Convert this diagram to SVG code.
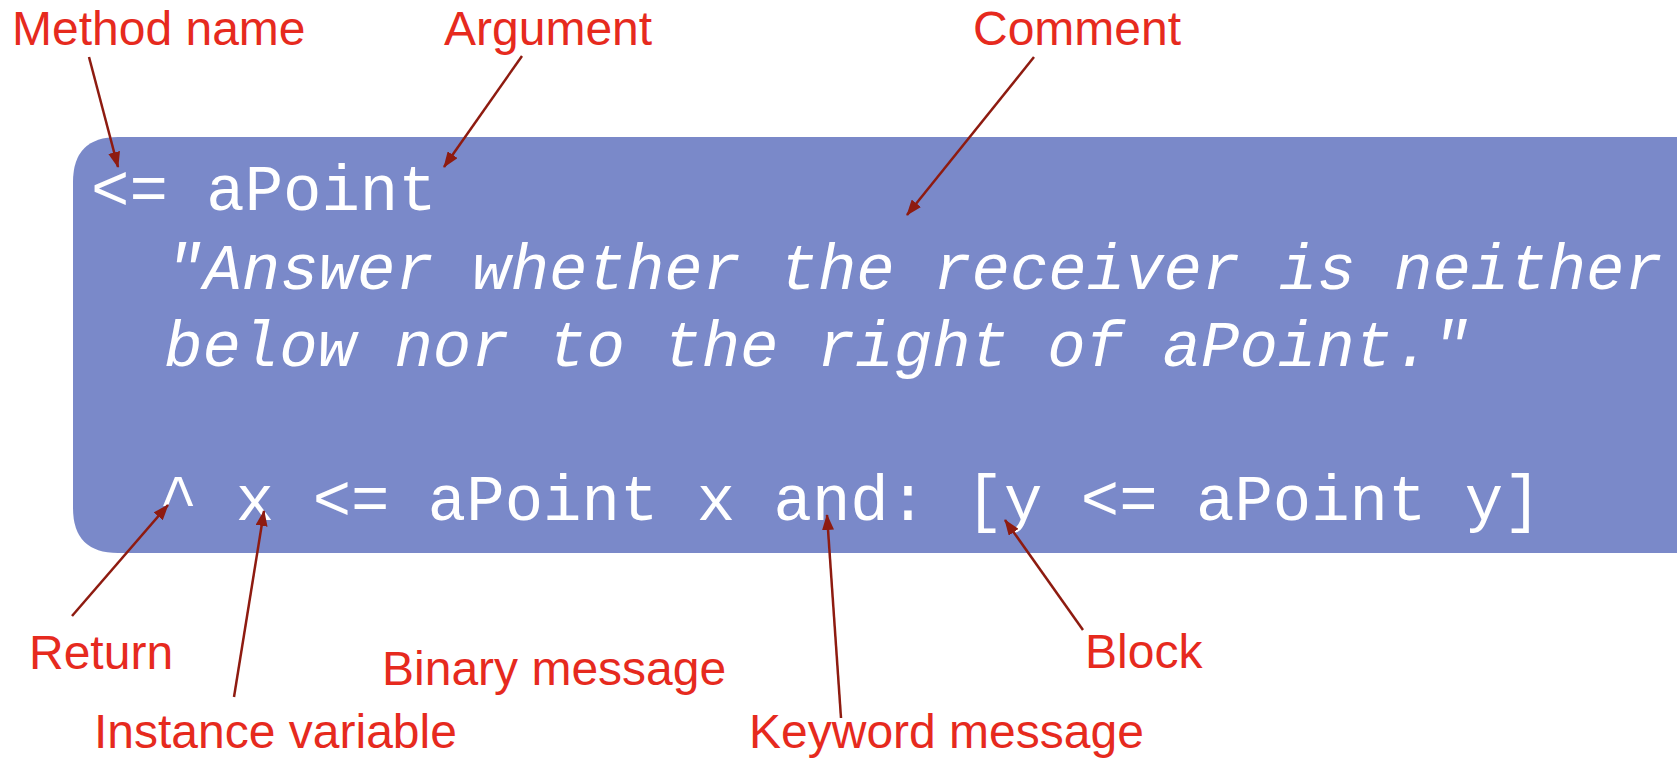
<svg xmlns="http://www.w3.org/2000/svg" width="1677" height="758" viewBox="0 0 1677 758">
<defs>
<style>
.lbl{font-family:"Liberation Sans",Arial,sans-serif;font-size:48px;fill:#E62A1E}
.code{font-family:"Liberation Mono","Courier New",monospace;font-size:64px;fill:#ffffff}
.it{font-style:italic}
.arr{stroke:#8E1B10;stroke-width:2.5;fill:none;marker-end:url(#ah)}
</style>
<marker id="ah" viewBox="0 0 16 12" refX="15" refY="6" markerWidth="16" markerHeight="12" markerUnits="userSpaceOnUse" orient="auto">
<path d="M0,0 L16,6 L0,12 Z" fill="#8E1B10"/>
</marker>
</defs>
<rect width="1677" height="758" fill="#ffffff"/>
<g id="codebox">
<path d="M118,137 H1677 V553 H118 Q73,553 73,508 V182 Q73,137 118,137 Z" fill="#7A89C9"/>
<text class="code" x="91" y="210">&lt;= aPoint</text>
<text class="code it" x="165" y="289">"Answer whether the receiver is neither</text>
<text class="code it" x="164" y="366">below nor to the right of aPoint."</text>
<text class="code" x="159" y="520">^ x &lt;= aPoint x and: [y &lt;= aPoint y]</text>
</g>
<g id="label-method-name"><text class="lbl" x="12" y="45">Method name</text></g>
<g id="label-argument"><text class="lbl" x="444" y="45">Argument</text></g>
<g id="label-comment"><text class="lbl" x="973" y="45">Comment</text></g>
<g id="label-return"><text class="lbl" x="29" y="669">Return</text></g>
<g id="label-binary"><text class="lbl" x="382" y="685">Binary message</text></g>
<g id="label-instance"><text class="lbl" x="94" y="748">Instance variable</text></g>
<g id="label-keyword"><text class="lbl" x="749" y="748">Keyword message</text></g>
<g id="label-block"><text class="lbl" x="1085" y="668">Block</text></g>
<g id="connectors">
<line class="arr" x1="89" y1="57" x2="118" y2="167"/>
<line class="arr" x1="522" y1="56" x2="444" y2="167"/>
<line class="arr" x1="1034" y1="57" x2="907" y2="215"/>
<line class="arr" x1="72" y1="616" x2="168" y2="505"/>
<line class="arr" x1="234" y1="697" x2="264" y2="511"/>
<line class="arr" x1="841" y1="718" x2="827" y2="515"/>
<line class="arr" x1="1083" y1="630" x2="1005" y2="520"/>
</g>
</svg>
